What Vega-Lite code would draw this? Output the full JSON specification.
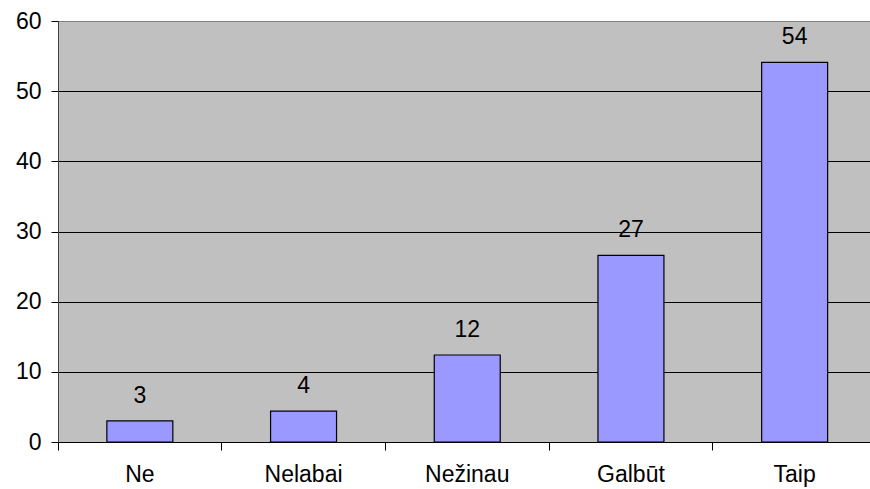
{
  "$schema": "https://vega.github.io/schema/vega-lite/v6.json",
  "width": 812,
  "height": 421,
  "autosize": {"type": "none"},
  "padding": {"left": 58, "top": 21, "right": 0, "bottom": 47},
  "background": "white",
  "config": {
    "view": {"fill": "#c0c0c0", "stroke": "#808080", "strokeWidth": 1},
    "font": "Liberation Sans"
  },
  "data": {
    "values": [
      {"answer": "Ne", "value": 3.0},
      {"answer": "Nelabai", "value": 4.4},
      {"answer": "Nežinau", "value": 12.4},
      {"answer": "Galbūt", "value": 26.6},
      {"answer": "Taip", "value": 54.1}
    ]
  },
  "encoding": {
    "x": {
      "field": "answer",
      "type": "nominal",
      "sort": null,
      "scale": {"range": [0, 818.5], "paddingInner": 0, "paddingOuter": 0},
      "axis": {
        "title": null,
        "labelAngle": 0,
        "labelFont": "Liberation Sans",
        "labelFontSize": 23,
        "labelColor": "#000",
        "labelPadding": 13,
        "tickSize": 8,
        "tickColor": "#000",
        "domainColor": "#000",
        "bandPosition": 0,
        "grid": false
      }
    },
    "y": {
      "field": "value",
      "type": "quantitative",
      "scale": {"domain": [0, 60], "nice": false},
      "axis": {
        "title": null,
        "values": [0, 10, 20, 30, 40, 50, 60],
        "labelFont": "Liberation Sans",
        "labelFontSize": 23,
        "labelColor": "#000",
        "labelPadding": 10,
        "tickSize": 7,
        "tickColor": "#000",
        "domainColor": "#404040",
        "grid": true,
        "gridColor": {"condition": {"test": "datum.value >= 60", "value": "#808080"}, "value": "#000000"},
        "gridOpacity": 1
      }
    }
  },
  "layer": [
    {
      "mark": {"type": "bar", "width": {"band": 0.403}, "fill": "#9999ff", "stroke": "#000", "strokeWidth": 1.2}
    },
    {
      "mark": {"type": "text", "baseline": "alphabetic", "dy": -18, "fontSize": 23, "font": "Liberation Sans", "color": "#000"},
      "encoding": {"text": {"field": "value", "type": "quantitative", "format": ".0f"}}
    }
  ]
}
